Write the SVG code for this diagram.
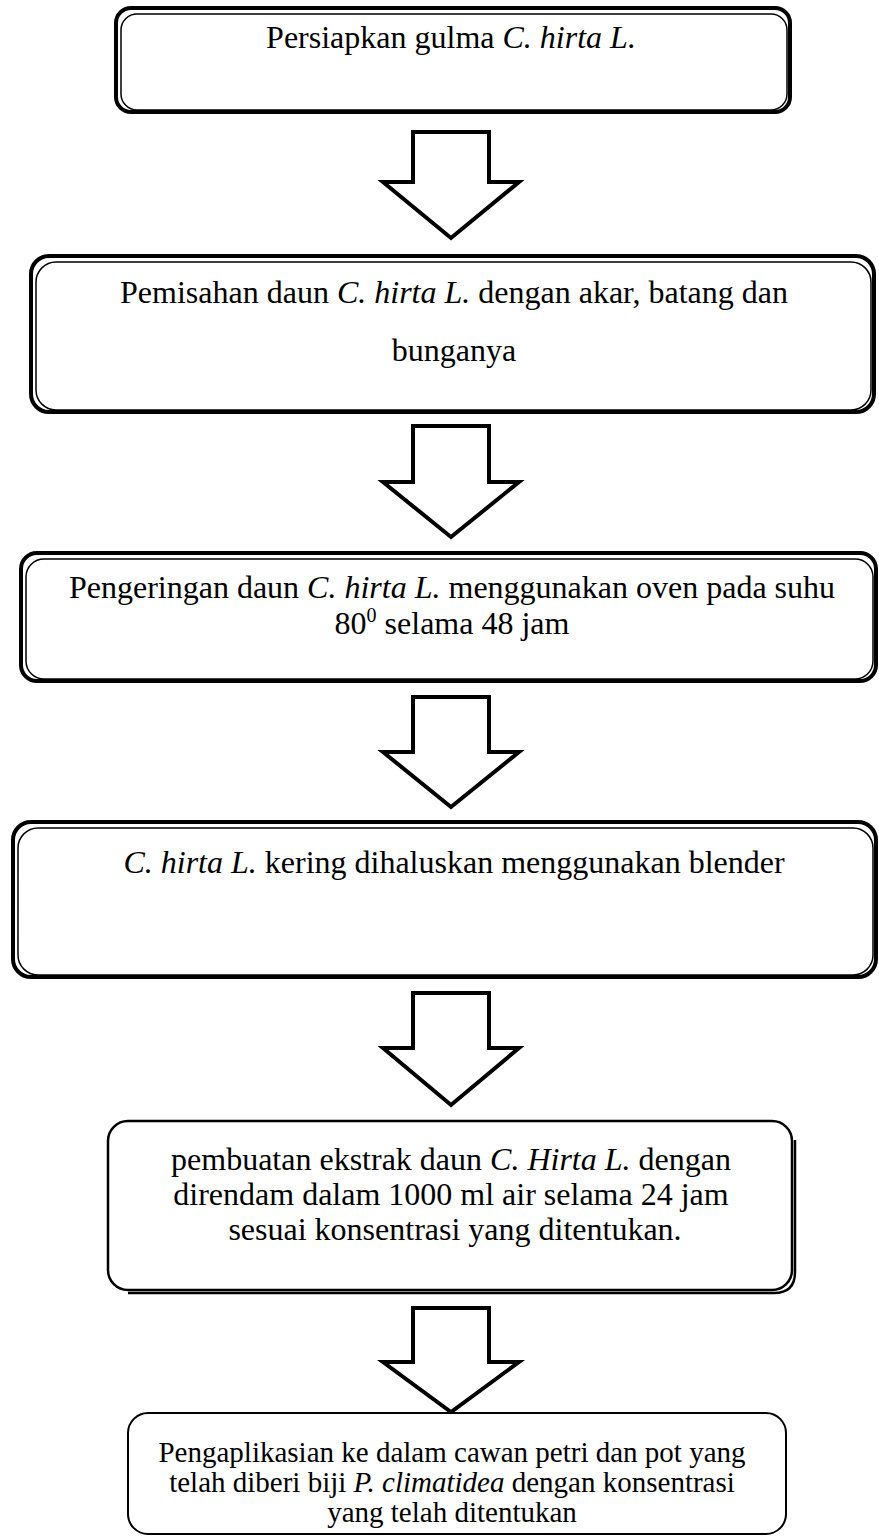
<svg xmlns="http://www.w3.org/2000/svg" width="879" height="1537" viewBox="0 0 879 1537">
<style>
.t{font-family:"Liberation Serif","Times New Roman",serif;font-size:32px;fill:#000;text-anchor:middle}
.s{font-size:29px}
.i{font-style:italic}
.o{fill:#fff;stroke:#000;stroke-width:4}
.in{fill:none;stroke:#000;stroke-width:1.5}
.th{fill:#fff;stroke:#000;stroke-width:2.5}
.sh{fill:none;stroke:#000;stroke-width:2.5}
.a{fill:#fff;stroke:#000;stroke-width:4;stroke-linejoin:miter}
</style>
<rect width="879" height="1537" fill="#fff"/>
<g id="connectors">
<polygon class="a" points="413,132 489,132 489,182 519,182 451,238 383,182 413,182"/>
<polygon class="a" points="413,426 489,426 489,482 519,482 451,537 383,482 413,482"/>
<polygon class="a" points="413,697 489,697 489,752 519,752 451,807 383,752 413,752"/>
<polygon class="a" points="413,993 489,993 489,1048 519,1048 451,1105 383,1048 413,1048"/>
<polygon class="a" points="413,1308 489,1308 489,1362 519,1362 451,1412 383,1362 413,1362"/>
</g>
<g id="node1">
<rect class="o" x="116" y="8" width="674" height="104" rx="15"/>
<rect class="in" x="121" y="14" width="666" height="96" rx="16"/>
<text class="t" x="451" y="48">Persiapkan gulma <tspan class="i">C. hirta L.</tspan></text>
</g>
<g id="node2">
<rect class="o" x="31" y="256" width="843" height="156" rx="18"/>
<rect class="in" x="36" y="262" width="835" height="148" rx="20"/>
<text class="t" x="454" y="303">Pemisahan daun <tspan class="i">C. hirta L.</tspan> dengan akar, batang dan</text>
<text class="t" x="454" y="361">bunganya</text>
</g>
<g id="node3">
<rect class="o" x="21" y="553" width="855" height="128" rx="16"/>
<rect class="in" x="26" y="559" width="847" height="120" rx="18"/>
<text class="t" x="452" y="598">Pengeringan daun <tspan class="i">C. hirta L.</tspan> menggunakan oven pada suhu</text>
<text class="t" x="452" y="634">80<tspan font-size="20" dy="-12">0</tspan><tspan dy="12"> selama 48 jam</tspan></text>
</g>
<g id="node4">
<rect class="o" x="13" y="822" width="863" height="155" rx="18"/>
<rect class="in" x="18" y="828" width="855" height="147" rx="20"/>
<text class="t" x="454" y="873"><tspan class="i">C. hirta L.</tspan> kering dihaluskan menggunakan blender</text>
</g>
<g id="node5">
<rect class="th" x="108" y="1121" width="684" height="169" rx="20"/>
<path class="sh" d="M795,1140 L795,1272 Q795,1293 774,1293 L128,1293"/>
<text class="t" x="451" y="1170">pembuatan ekstrak daun <tspan class="i">C. Hirta L.</tspan> dengan</text>
<text class="t" x="451" y="1205">direndam dalam 1000 ml air selama 24 jam</text>
<text class="t" x="455" y="1240">sesuai konsentrasi yang ditentukan.</text>
</g>
<g id="node6">
<rect class="th" x="128" y="1413" width="658" height="121" rx="20" style="stroke-width:2"/>
<text class="t s" x="452" y="1462">Pengaplikasian ke dalam cawan petri dan pot yang</text>
<text class="t s" x="452" y="1492">telah diberi biji <tspan class="i">P. climatidea</tspan> dengan konsentrasi</text>
<text class="t s" x="452" y="1522">yang telah ditentukan</text>
</g>
</svg>
